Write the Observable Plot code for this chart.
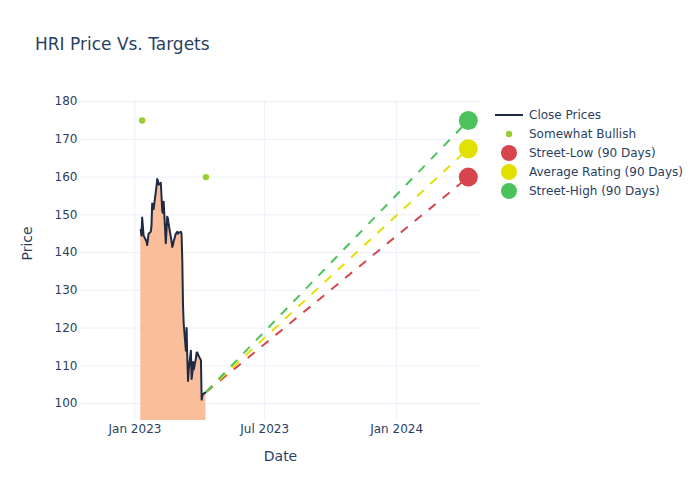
<!DOCTYPE html>
<html>
<head>
<meta charset="utf-8">
<script src="https://cdn.jsdelivr.net/npm/d3@7"></script>
<script src="https://cdn.jsdelivr.net/npm/@observablehq/plot@0.6"></script>
<style>
  body { margin: 0; background: #fff; font-family: "DejaVu Sans", sans-serif; }
  #wrap { position: relative; width: 700px; height: 500px; }
  #title { position: absolute; left: 35px; top: 33px; font-size: 17px; color: #2a3f5f; white-space: nowrap; line-height: 22px; }
  #legend { position: absolute; left: 495px; top: 106px; font-size: 12px; color: #2a3f5f; }
  .row { height: 18.8px; display: flex; align-items: center; white-space: nowrap; }
  .row svg { width: 34px; height: 18px; flex: none; }
</style>
</head>
<body>
<div id="wrap">
  <div id="chart"></div>
  <div id="title">HRI Price Vs. Targets</div>
  <div id="legend"></div>
</div>
<script>
// ---- data ----
const dates = [
  "2023-01-09","2023-01-10","2023-01-11","2023-01-12","2023-01-13",
  "2023-01-17","2023-01-18","2023-01-19","2023-01-20",
  "2023-01-23","2023-01-24","2023-01-25","2023-01-26","2023-01-27",
  "2023-01-30","2023-01-31","2023-02-01","2023-02-02","2023-02-03",
  "2023-02-06","2023-02-07","2023-02-08","2023-02-09","2023-02-10",
  "2023-02-13","2023-02-14","2023-02-15","2023-02-16","2023-02-17",
  "2023-02-21","2023-02-22","2023-02-23","2023-02-24",
  "2023-02-27","2023-02-28","2023-03-01","2023-03-02","2023-03-03",
  "2023-03-06","2023-03-07","2023-03-08","2023-03-09","2023-03-10",
  "2023-03-13","2023-03-14","2023-03-15","2023-03-16","2023-03-17",
  "2023-03-20","2023-03-21","2023-03-22","2023-03-23","2023-03-24",
  "2023-03-27","2023-03-28","2023-03-29","2023-03-30","2023-03-31",
  "2023-04-03","2023-04-04","2023-04-05","2023-04-06","2023-04-10"
];
const closes = [
  146, 144.5, 149.3, 147, 144.5,
  143, 142, 143.5, 145,
  145.5, 147, 153, 152.5, 151.5,
  156, 157.5, 159.5, 159, 158,
  158.5, 155, 151, 150.5, 153.5,
  142.5, 146, 149.5, 149, 147.5,
  143, 141.5, 142, 143,
  145, 145.2, 145.5, 145, 145.3,
  145.5, 145, 138, 126, 121,
  114, 120, 112, 106, 109,
  114, 106.5, 108, 111, 109,
  112, 113.5, 113.5, 113, 112.5,
  111.5, 101, 102, 102.5, 103
];
const bullishDates = ["2023-01-11", "2023-04-10"];
const bullishValues = [175, 160];
const targetDate = "2024-04-10";
const targetLabels = ["Street-Low (90 Days)", "Average Rating (90 Days)", "Street-High (90 Days)"];
const targetValues = [160, 167.5, 175];
const targetColors = ["#d6454d", "#e2e000", "#4cc35a"];
const lineColor = "#1f2a44";
const fillColor = "#fbbe9b";
const bullishColor = "#9acd32";
const xTicks = ["2023-01-01", "2023-07-01", "2024-01-01"];
const yTicks = [100, 110, 120, 130, 140, 150, 160, 170, 180];

// ---- tables ----
const parse = s => new Date(s + "T00:00:00Z");
const prices = dates.map((d, i) => ({date: parse(d), close: closes[i]}));
const bullish = bullishDates.map((d, i) => ({date: parse(d), value: bullishValues[i]}));
const last = prices[prices.length - 1];
const targets = targetLabels.map((l, i) => ({
  label: l, value: targetValues[i], color: targetColors[i],
  x1: last.date, y1: last.close, x2: parse(targetDate), y2: targetValues[i]
}));

const chart = Plot.plot({
  width: 700,
  height: 500,
  marginLeft: 80,
  marginRight: 220,
  marginTop: 100,
  marginBottom: 80,
  style: {fontFamily: "DejaVu Sans", fontSize: "12px", color: "#2a3f5f", background: "#fff", overflow: "visible"},
  x: {type: "utc", domain: [parse("2022-10-17"), parse("2024-04-27")]},
  y: {domain: [95.5, 180.3]},
  marks: [
    Plot.gridY(yTicks, {stroke: "#ebf0f8", strokeOpacity: 1, strokeWidth: 1}),
    Plot.gridX(xTicks.map(parse), {stroke: "#ebf0f8", strokeOpacity: 1, strokeWidth: 1}),
    Plot.axisY(yTicks, {tickSize: 0, tickPadding: 3, label: null, fill: "#2a3f5f"}),
    Plot.axisX(xTicks.map(parse), {tickSize: 0, tickPadding: 4, label: null, tickFormat: d3.utcFormat("%b %Y"), fill: "#2a3f5f"}),
    Plot.areaY(prices, {x: "date", y: "close", y1: 0, fill: fillColor, clip: true}),
    Plot.lineY(prices, {x: "date", y: "close", stroke: lineColor, strokeWidth: 2}),
    Plot.link(targets, {x1: "x1", y1: "y1", x2: "x2", y2: "y2", stroke: "color", strokeWidth: 2, strokeDasharray: "9,9"}),
    Plot.dot(bullish, {x: "date", y: "value", fill: bullishColor, r: 3.2}),
    Plot.dot(targets, {x: "x2", y: "y2", fill: "color", r: 9.5}),
    Plot.text(["Date"], {frameAnchor: "bottom", dy: 40, fontSize: 14, fill: "#2a3f5f"}),
    Plot.text(["Price"], {frameAnchor: "left", dx: -53, rotate: -90, fontSize: 14, fill: "#2a3f5f"})
  ]
});
document.getElementById("chart").appendChild(chart);

// ---- legend ----
const legendItems = [
  {label: "Close Prices", type: "line", color: lineColor},
  {label: "Somewhat Bullish", type: "dot", color: bullishColor, r: 3.2},
  ...targets.map(t => ({label: t.label, type: "dot", color: t.color, r: 8}))
];
const legend = document.getElementById("legend");
for (const it of legendItems) {
  const row = document.createElement("div");
  row.className = "row";
  const sw = it.type === "line"
    ? `<svg viewBox="0 0 34 18"><line x1="0" x2="28" y1="9" y2="9" stroke="${it.color}" stroke-width="2"/></svg>`
    : `<svg viewBox="0 0 34 18"><circle cx="14" cy="9" r="${it.r}" fill="${it.color}"/></svg>`;
  row.innerHTML = sw + `<span>${it.label}</span>`;
  legend.appendChild(row);
}
</script>
</body>
</html>
